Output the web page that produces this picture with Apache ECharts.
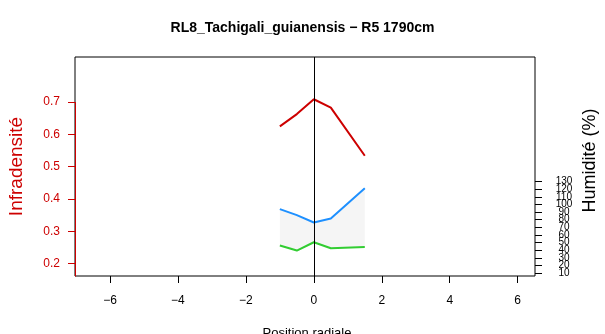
<!DOCTYPE html>
<html>
<head>
<meta charset="utf-8">
<script src="https://cdn.jsdelivr.net/npm/echarts@6/dist/echarts.min.js"></script>
<style>
html,body{margin:0;padding:0;background:#fff;}
#c{width:605px;height:334px;}
</style>
</head>
<body>
<div id="c"></div>
<script>
// ---- data ----
const titleText = 'RL8_Tachigali_guianensis \u2212 R5 1790cm';
const positions = [-1, -0.5, 0, 0.5, 1.5];
const infradensite = [0.625, 0.663, 0.709, 0.683, 0.534];
const humiditeHaute = [94, 86, 76.4, 81.7, 121.3];
const humiditeBasse = [46.1, 39.5, 50.4, 42.5, 44.2];
const xTicks = [-6, -4, -2, 0, 2, 4, 6];
const leftTicks = [0.2, 0.3, 0.4, 0.5, 0.6, 0.7];
const rightTicks = [10, 20, 30, 40, 50, 60, 70, 80, 90, 100, 110, 120, 130];
const refLine = [0];

const FONT = '"Liberation Sans", Arial, Helvetica, sans-serif';
const RED = '#CD0000';
const xRange = [-7.03, 6.51];
const leftRange = [0.1615, 0.8398];
const rightRange = [6, 294];

// right-axis labels split over two overlapping axes so none gets dropped
const rightLabelsOdd = rightTicks.filter((v, i) => i % 2 === 0);
const rightLabelsEven = rightTicks.filter((v, i) => i % 2 === 1);

const chart = echarts.init(document.getElementById('c'), null, {renderer: 'canvas'});

const pairs = (ys) => positions.map((x, i) => [x, ys[i]]);

const rightAxis = (labels, ticks) => ({
  type: 'value', position: 'right', offset: 0, min: rightRange[0], max: rightRange[1],
  axisLine: {show: false, onZero: false},
  splitLine: {show: false},
  axisTick: ticks ? {show: true, length: 7, customValues: ticks, lineStyle: {color: '#000'}} : {show: false},
  axisLabel: {customValues: labels, color: '#000', fontSize: 10, margin: 29, align: 'center',
    fontFamily: FONT, hideOverlap: false, showMinLabel: true, showMaxLabel: true}
});

chart.setOption({
  animation: false,
  backgroundColor: '#fff',
  textStyle: {fontFamily: FONT},
  title: {
    text: titleText,
    left: 'center',
    top: 16,
    textStyle: {fontSize: 14, fontWeight: 'bold', color: '#000', fontFamily: FONT}
  },
  grid: {
    left: 75, right: 70, top: 57, bottom: 58,
    show: true, borderColor: '#000', borderWidth: 1, backgroundColor: 'transparent'
  },
  xAxis: {
    type: 'value', min: xRange[0], max: xRange[1],
    axisLine: {show: false, onZero: false},
    splitLine: {show: false},
    axisTick: {show: true, length: 7, customValues: xTicks, lineStyle: {color: '#000'}},
    axisLabel: {customValues: xTicks, color: '#000', fontSize: 12, margin: 19, fontFamily: FONT,
      showMinLabel: true, showMaxLabel: true,
      formatter: v => (v < 0 ? '\u2212' + Math.abs(v) : String(v))}
  },
  yAxis: [
    {
      type: 'value', position: 'left', min: leftRange[0], max: leftRange[1],
      axisLine: {show: false, onZero: false},
      splitLine: {show: false},
      axisTick: {show: true, length: 7, customValues: leftTicks, lineStyle: {color: RED}},
      axisLabel: {customValues: leftTicks, color: RED, fontSize: 12, margin: 15, fontFamily: FONT,
        showMinLabel: true, showMaxLabel: true, formatter: v => v.toFixed(1)}
    },
    rightAxis(rightLabelsOdd, rightTicks),
    rightAxis(rightLabelsEven, null)
  ],
  series: [
    {
      name: 'band', type: 'custom', xAxisIndex: 0, yAxisIndex: 1, silent: true, z: 1,
      data: [[positions[0], humiditeHaute[0]]],
      renderItem: (params, api) => {
        const pts = [];
        positions.forEach((x, i) => pts.push(api.coord([x, humiditeHaute[i]])));
        for (let i = positions.length - 1; i >= 0; i--) pts.push(api.coord([positions[i], humiditeBasse[i]]));
        return {type: 'polygon', shape: {points: pts}, style: {fill: '#F5F5F5', stroke: null}};
      }
    },
    {
      name: 'humMin', type: 'line', yAxisIndex: 1, data: pairs(humiditeBasse),
      symbol: 'none', lineStyle: {color: '#32CD32', width: 2}, z: 3
    },
    {
      name: 'humMax', type: 'line', yAxisIndex: 1, data: pairs(humiditeHaute),
      symbol: 'none', lineStyle: {color: '#1E90FF', width: 2}, z: 3
    },
    {
      name: 'infra', type: 'line', yAxisIndex: 0, data: pairs(infradensite),
      symbol: 'none', lineStyle: {color: RED, width: 2}, z: 4,
      markLine: {
        silent: true, symbol: 'none', animation: false,
        label: {show: false},
        lineStyle: {color: '#000', width: 1, type: 'solid'},
        data: refLine.map(v => ({xAxis: v}))
      }
    }
  ]
});

// decorations positioned from the axes' own scales
const pTop = chart.convertToPixel({seriesIndex: 3}, [xRange[0], leftTicks[leftTicks.length - 1]]);
const pBot = chart.convertToPixel({seriesIndex: 3}, [xRange[0], leftRange[0]]);
const pMid = chart.convertToPixel({seriesIndex: 3}, [(xRange[0] + xRange[1]) / 2, (leftRange[0] + leftRange[1]) / 2]);
const xl = Math.round(pTop[0]) + 0.5;

chart.setOption({
  graphic: [
    {type: 'line', z: 100, shape: {x1: xl, y1: pTop[1], x2: xl, y2: pBot[1] + 0.5},
      style: {stroke: RED, lineWidth: 1}},
    {type: 'text', x: 17, y: pMid[1], rotation: Math.PI / 2,
      style: {text: 'Infradensité', fill: RED, font: '19px ' + FONT, textAlign: 'center', textVerticalAlign: 'middle'}},
    {type: 'text', x: 590, y: pMid[1] - 6, rotation: Math.PI / 2,
      style: {text: 'Humidité (%)', fill: '#000', font: '18px ' + FONT, textAlign: 'center', textVerticalAlign: 'middle'}},
    {type: 'text', x: pMid[0] + 2, y: 333,
      style: {text: 'Position radiale', fill: '#000', font: '13px ' + FONT, textAlign: 'center', textVerticalAlign: 'middle'}}
  ]
});
</script>
</body>
</html>
